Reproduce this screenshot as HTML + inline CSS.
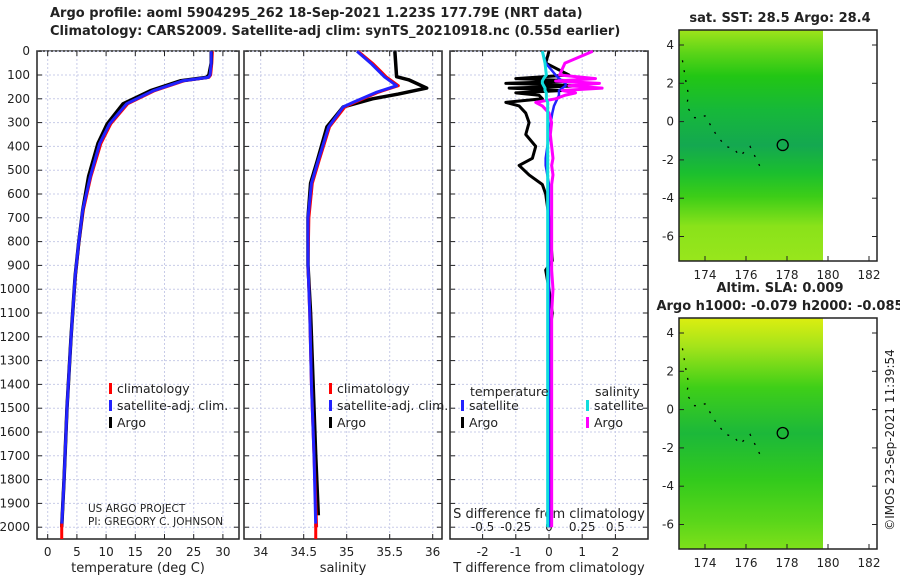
<!DOCTYPE html>
<html><head><meta charset="utf-8"><style>
body{margin:0;background:#fff;width:900px;height:580px;overflow:hidden;font-family:"DejaVu Sans",sans-serif}
svg text{font-family:"DejaVu Sans","Liberation Sans",sans-serif}
</style></head><body>
<svg id="c" width="900" height="580">
<defs>
<linearGradient id="g1" x1="0" y1="0" x2="0" y2="1">
<stop offset="0" stop-color="#9ee41a"/><stop offset="0.1" stop-color="#5ad418"/><stop offset="0.2" stop-color="#22c614"/><stop offset="0.35" stop-color="#16b83a"/><stop offset="0.5" stop-color="#14a850"/><stop offset="0.62" stop-color="#1bbf2e"/><stop offset="0.72" stop-color="#3ccd18"/><stop offset="0.85" stop-color="#8ae21a"/><stop offset="1" stop-color="#98e61c"/></linearGradient>
<linearGradient id="g2" x1="0" y1="0" x2="0" y2="1">
<stop offset="0" stop-color="#dcee10"/><stop offset="0.12" stop-color="#a6e41a"/><stop offset="0.3" stop-color="#3fcf18"/><stop offset="0.5" stop-color="#1cb83a"/><stop offset="0.7" stop-color="#32ca1c"/><stop offset="0.88" stop-color="#5ad61a"/><stop offset="1" stop-color="#7ee01a"/></linearGradient>
</defs>
</svg>
<script>
// ---- data ----
const depths=[0,50,100,110,124,166,221,305,388,526,667,806,945,1200,1500,1800,2000];
const tempClim=[28.2,28.1,27.9,27.6,23.4,18.3,13.7,10.8,9.1,7.4,6.1,5.35,4.75,4.0,3.3,2.8,2.4];
const tempSat=[28.0,28.0,27.8,27.5,23.2,18.1,13.5,10.6,8.9,7.3,6.0,5.3,4.7,4.0,3.3,2.8,2.4];
const tempArgo=[28.0,28.0,27.6,27.2,22.8,17.6,12.9,10.2,8.6,7.0,6.0,5.3,4.7,4.0,3.3,2.8,2.4];
const salDepths=[0,54,108,145,172,214,234,318,458,555,700,900,1100,1400,1700,2000];
const salClim=[35.13,35.31,35.46,35.6,35.37,35.1,34.98,34.8,34.68,34.6,34.56,34.55,34.57,34.59,34.62,34.65];
const salSat=[35.12,35.29,35.44,35.58,35.35,35.08,34.96,34.79,34.67,34.59,34.55,34.55,34.57,34.59,34.62,34.64];
const argoSalDepths=[0,107,120,155,180,200,234,318,458,555,700,900,1100,1400,1700,1950];
const salArgo=[35.56,35.58,35.72,35.93,35.6,35.3,34.96,34.77,34.66,34.58,34.55,34.55,34.58,34.61,34.64,34.67];
const dDepths=[0,50,100,115,125,135,145,155,165,175,185,200,215,230,260,300,350,400,450,480,520,560,600,700,880,920,1000,1100,1200,1500,2000];
const dTArgo=[0,-0.1,0.6,-1.0,0.9,-1.3,1.0,-1.2,0.4,-1.0,-0.3,-0.2,-1.3,-0.9,-0.7,-0.6,-0.7,-0.4,-0.5,-0.9,-0.6,-0.2,-0.1,0,0.1,-0.1,0,0.1,0,0,0];
const dTSat=[-0.2,-0.1,0.2,0.3,0.4,0.5,0.5,0.4,0.3,0.3,0.3,0.25,0.2,0.15,0.1,0.05,0,-0.05,-0.1,-0.1,-0.05,0,0,0,0,0,0,0,0,0,0];
const dSArgo=[0.33,0.12,0.08,0.35,0.05,0.38,0.15,0.4,0.1,0.2,0.12,0.05,-0.1,-0.05,0,0.02,0.01,0.02,0.03,0.02,0.03,0.02,0.02,0.02,0.02,0.02,0.03,0.02,0.02,0.02,0.02];
const dSSat=[-0.05,-0.03,-0.02,-0.04,-0.05,-0.05,-0.04,-0.03,-0.03,-0.02,-0.02,-0.02,-0.01,-0.01,-0.01,-0.01,-0.01,-0.01,-0.01,-0.01,-0.01,-0.01,-0.01,-0.01,-0.01,-0.01,-0.01,-0.01,-0.01,-0.01,-0.01];
const depthTicks=[0,100,200,300,400,500,600,700,800,900,1000,1100,1200,1300,1400,1500,1600,1700,1800,1900,2000];
const tTicks=[0,5,10,15,20,25,30];
const sTicks=[34,34.5,35,35.5,36];
const dtTicks=[-2,-1,0,1,2];
const dsTicks=[-0.5,-0.25,0,0.25,0.5];
const lonTicks=[174,176,178,180,182];
const latTicks=[4,2,0,-2,-4,-6];
// ---- helpers ----
const svg=document.getElementById('c');const NS='http://www.w3.org/2000/svg';
function el(t,a,p){const e=document.createElementNS(NS,t);for(const k in a)e.setAttribute(k,a[k]);(p||svg).appendChild(e);return e;}
function tx(x,y,s,a){const e=el('text',Object.assign({x:x,y:y,'font-size':12,fill:'#222'},a||{}));e.textContent=s;return e;}
const TOP=51,BOT=539;
const yD=d=>51.2+d*0.238;
function panel(name,x0,x1,xs,ticks,fmt){
 const g=el('g',{});
 
 
 el('rect',{x:x0,y:TOP,width:x1-x0,height:BOT-TOP,fill:'#fff',stroke:'#222','stroke-width':1.5},g);
 depthTicks.forEach(d=>{const y=yD(d);el('line',{x1:x0,x2:x1,y1:y,y2:y,stroke:'#c8cce8','stroke-dasharray':'2,2'},g);el('line',{x1:x0,x2:x0+5,y1:y,y2:y,stroke:'#222'},g);el('line',{x1:x1-5,x2:x1,y1:y,y2:y,stroke:'#222'},g);});
 ticks.forEach(t=>{const x=xs(t);el('line',{x1:x,x2:x,y1:TOP,y2:BOT,stroke:'#c8cce8','stroke-dasharray':'2,2'},g);el('line',{x1:x,x2:x,y1:BOT-5,y2:BOT,stroke:'#222'},g);el('line',{x1:x,x2:x,y1:TOP,y2:TOP+5,stroke:'#222'},g);if(fmt)tx(x,556,fmt(t),{'text-anchor':'middle'});});
 return g;}
function line(name,dep,vals,xs,col,w){const p=el('polyline',{points:dep.map((d,i)=>xs(vals[i])+','+yD(d)).join(' '),fill:'none',stroke:col,'stroke-width':w,'stroke-linejoin':'round'});}
// titles
tx(50,17,'Argo profile: aoml 5904295_262 18-Sep-2021 1.223S 177.79E (NRT data)',{'font-weight':'bold','font-size':13});
tx(50,35,'Climatology: CARS2009. Satellite-adj clim: synTS_20210918.nc (0.55d earlier)',{'font-weight':'bold','font-size':13});
depthTicks.forEach(d=>tx(30,yD(d)+4,String(d),{'text-anchor':'end'}));
// panel 1
const xT=t=>47.7+t*5.84;
panel('temperature-panel',37,239,xT,tTicks,String);
tx(138,572,'temperature (deg C)',{'text-anchor':'middle','font-size':13});
line('temp-climatology',depths,tempClim,xT,'#f00',3);
line('temp-argo',depths,tempArgo,xT,'#000',3.5);
line('temp-satellite',depths,tempSat,xT,'#22f',3);
el('rect',{x:xT(2.4)-1.5,y:yD(1985),width:3,height:BOT-yD(1985),fill:'#f00'});
[['#f00','climatology',392],['#22f','satellite-adj. clim.',409],['#000','Argo',426]].forEach(l=>{el('rect',{x:109,y:l[2]-9,width:3,height:11,fill:l[0]});tx(117,l[2]+1,l[1],{'font-size':12.5});});
tx(88,512,'US ARGO PROJECT',{'font-size':10.5});
tx(88,525,'PI: GREGORY C. JOHNSON',{'font-size':10.5});
// panel 2
const xS=s=>260.7+(s-34)*86;
panel('salinity-panel',244,442,xS,sTicks,String);
tx(343,572,'salinity',{'text-anchor':'middle','font-size':13});
line('sal-argo',argoSalDepths,salArgo,xS,'#000',3.5);
line('sal-climatology',salDepths,salClim,xS,'#f00',3);
line('sal-satellite',salDepths,salSat,xS,'#22f',3);
el('rect',{x:xS(34.64)-1.5,y:yD(1985),width:3,height:BOT-yD(1985),fill:'#f00'});
[['#f00','climatology',392],['#22f','satellite-adj. clim.',409],['#000','Argo',426]].forEach(l=>{el('rect',{x:329,y:l[2]-9,width:3,height:11,fill:l[0]});tx(337,l[2]+1,l[1],{'font-size':12.5});});
// panel 3
const xDT=v=>549+v*33.2;const xDS=v=>549+v*132.8;
panel('difference-panel',450,648,xDT,dtTicks,String);
dsTicks.forEach(v=>tx(xDS(v),531,String(v),{'text-anchor':'middle'}));
tx(549,518,'S difference from climatology',{'text-anchor':'middle','font-size':13});
tx(549,572,'T difference from climatology',{'text-anchor':'middle','font-size':13});
line('dT-argo',dDepths,dTArgo,xDT,'#000',3);
line('dT-satellite',dDepths,dTSat,xDT,'#22f',2.5);
line('dS-argo',dDepths,dSArgo,xDS,'#f0f',3);
line('dS-satellite',dDepths,dSSat,xDS,'#1dd',3);
tx(470,396,'temperature',{'font-size':12.5});tx(595,396,'salinity',{'font-size':12.5});
[['#22f','satellite',409,461],['#000','Argo',426,461],['#1dd','satellite',409,586],['#f0f','Argo',426,586]].forEach(l=>{el('rect',{x:l[3],y:l[2]-9,width:3,height:11,fill:l[0]});tx(l[3]+8,l[2]+1,l[1],{'font-size':12.5});});
// maps
const lonX=l=>705+(l-174)*20.5;
function map(name,top,grad,title){
 const g=el('g',{});
 
 
 const latY=v=>top+15+(4-v)*19.15;
 el('rect',{x:679,y:top,width:144,height:231,fill:'url(#'+grad+')'},g);
 el('rect',{x:679,y:top,width:198,height:231,fill:'none',stroke:'#222','stroke-width':1.5},g);
 lonTicks.forEach(l=>{el('line',{x1:lonX(l),x2:lonX(l),y1:top+226,y2:top+231,stroke:'#222'},g);tx(lonX(l),top+249,String(l),{'text-anchor':'middle'});});
 latTicks.forEach(v=>{el('line',{x1:679,x2:684,y1:latY(v),y2:latY(v),stroke:'#222'},g);el('line',{x1:872,x2:877,y1:latY(v),y2:latY(v),stroke:'#222'},g);tx(674,latY(v)+4,String(v),{'text-anchor':'end'});});
 el('circle',{cx:lonX(177.79),cy:latY(-1.223),r:5.5,fill:'none',stroke:'#000','stroke-width':1.3},g);
 el('polyline',{points:[[172.9,3.2],[173.1,1.9],[173.2,1.4],[173.1,0.8],[173.5,0.2],[174,0.3],[174.5,-0.6],[175,-1.3],[175.4,-1.4],[175.7,-1.8],[176.2,-1.3],[176.8,-2.6]].map(p=>lonX(p[0])+','+latY(p[1])).join(' '),fill:'none',stroke:'#000','stroke-width':1.3,'stroke-dasharray':'2,8'},g);
 title.forEach((t,i)=>tx(780,top-8-(title.length-1-i)*18,t,{'text-anchor':'middle','font-weight':'bold','font-size':13}));
}
map('sst-map',30,'g1',['sat. SST: 28.5 Argo: 28.4']);
map('sla-map',318,'g2',['Altim. SLA: 0.009','Argo h1000: -0.079 h2000: -0.085']);
tx(897,440,'©IMOS 23-Sep-2021 11:39:54',{'text-anchor':'middle',transform:'rotate(-90 897 440)','font-size':12,dy:'-3'});
</script>
</body></html>
